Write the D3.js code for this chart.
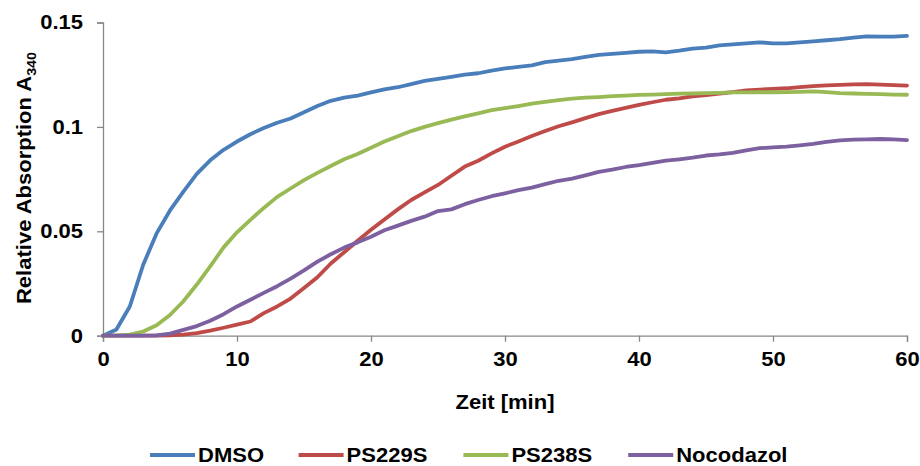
<!DOCTYPE html>
<html>
<head>
<meta charset="utf-8">
<script src="https://cdn.jsdelivr.net/npm/d3@7"></script>
<style>
  html, body { margin: 0; padding: 0; background: #fff; }
  svg { display: block; }
  text { font-family: "Liberation Sans", Arial, sans-serif; font-weight: bold; fill: #000; }
</style>
</head>
<body>
<svg id="chart" width="920" height="466"></svg>
<script>
// Time axis in minutes (one reading per minute)
const minutes = d3.range(0, 61);

// Relative absorption at 340 nm for each treatment
const dmso = [0, 0.003, 0.014, 0.034, 0.049, 0.060, 0.069, 0.0775, 0.084, 0.089,
  0.093, 0.0965, 0.0995, 0.102, 0.104, 0.107, 0.110, 0.1125, 0.114, 0.115,
  0.1165, 0.118, 0.119, 0.1205, 0.122, 0.123, 0.124, 0.125, 0.1257, 0.127,
  0.128, 0.1287, 0.1295, 0.131, 0.1317, 0.1325, 0.1335, 0.1345, 0.135, 0.1355,
  0.136, 0.1362, 0.1357, 0.1365, 0.1375, 0.138, 0.139, 0.1395, 0.140, 0.1405,
  0.140, 0.140, 0.1405, 0.141, 0.1415, 0.142, 0.1428, 0.1434, 0.1432, 0.1432, 0.1436];

const ps229s = [0, 0, 0, 0, 0, 0.0002, 0.0005, 0.0012, 0.0024, 0.0038,
  0.0053, 0.0068, 0.0108, 0.014, 0.0178, 0.0228, 0.028, 0.0346, 0.040, 0.0455,
  0.0507, 0.0557, 0.0605, 0.065, 0.0686, 0.0722, 0.0766, 0.081, 0.0838, 0.0873,
  0.0905, 0.093, 0.0956, 0.098, 0.1003, 0.1022, 0.1042, 0.1061, 0.1077, 0.1091,
  0.1105, 0.1118, 0.113, 0.1137, 0.1146, 0.1152, 0.116, 0.1167, 0.1175, 0.1179,
  0.1182, 0.1185, 0.119, 0.1195, 0.1199, 0.1201, 0.1204, 0.1205, 0.1202, 0.12, 0.1198];

const ps238s = [0, 0, 0.0005, 0.002, 0.005, 0.0099, 0.0165, 0.0245, 0.0332, 0.0423,
  0.0495, 0.0555, 0.0612, 0.0665, 0.0705, 0.0745, 0.078, 0.0813, 0.0845, 0.087,
  0.090, 0.093, 0.0955, 0.098, 0.100, 0.1018, 0.1035, 0.105, 0.1065, 0.108,
  0.109, 0.110, 0.1111, 0.112, 0.1128, 0.1135, 0.114, 0.1143, 0.1147, 0.115,
  0.1153, 0.1155, 0.1157, 0.1159, 0.116, 0.1162, 0.1163, 0.1165, 0.1165, 0.1166,
  0.1166, 0.1167, 0.1168, 0.117, 0.1167, 0.1162, 0.116, 0.1158, 0.1157, 0.1155, 0.1154];

const nocodazol = [0, 0, 0, 0, 0.0002, 0.001, 0.0028, 0.0046, 0.0072, 0.0103,
  0.014, 0.0172, 0.0205, 0.0237, 0.0273, 0.0313, 0.0355, 0.039, 0.0422, 0.0447,
  0.0474, 0.0505, 0.0527, 0.055, 0.057, 0.0597, 0.0605, 0.063, 0.065, 0.0668,
  0.0682, 0.0697, 0.0709, 0.0726, 0.0742, 0.0752, 0.0768, 0.0785, 0.0795, 0.0808,
  0.0817, 0.0828, 0.0838, 0.0845, 0.0853, 0.0863, 0.0868, 0.0876, 0.0888, 0.0898,
  0.0902, 0.0906, 0.0912, 0.0919, 0.0928, 0.0935, 0.0939, 0.094, 0.0942, 0.094, 0.0937];

const seriesNames = ["DMSO", "PS229S", "PS238S", "Nocodazol"];
const seriesValues = [dmso, ps229s, ps238s, nocodazol];
const seriesColors = ["#4a7ebb", "#be4b48", "#98b954", "#7d60a0"];

const xTicks = [0, 10, 20, 30, 40, 50, 60];
const yTicks = [0, 0.05, 0.1, 0.15];
const yTickLabels = ["0", "0.05", "0.1", "0.15"];

const svg = d3.select("#chart");
const plot = { left: 103, right: 907, top: 22.5, bottom: 335.7 };
const axisColor = "#878787";
const stretch = 1.1;   // labels are set slightly wide

const x = d3.scaleLinear().domain([0, 60]).range([plot.left, plot.right]);
const y = d3.scaleLinear().domain([0, 0.15]).range([plot.bottom, plot.top]);

// widen a text element horizontally by the stretch factor
function widen(sel) {
  sel.each(function () {
    const w = this.getComputedTextLength();
    d3.select(this).attr("textLength", w * stretch).attr("lengthAdjust", "spacingAndGlyphs");
  });
}

// Y axis
const yAxis = svg.append("g")
  .attr("transform", `translate(${plot.left},0)`)
  .call(d3.axisLeft(y).tickValues(yTicks).tickFormat((d, i) => yTickLabels[i]).tickSize(6).tickPadding(14));
yAxis.select(".domain").attr("stroke", axisColor).attr("stroke-width", 1.3);
yAxis.selectAll(".tick line").attr("stroke", axisColor).attr("stroke-width", 1.3);
yAxis.selectAll(".tick text")
  .attr("font-size", 20).attr("font-family", "Liberation Sans, Arial, sans-serif")
  .attr("font-weight", "bold").attr("fill", "#000").call(widen);

// X axis
const xAxis = svg.append("g")
  .attr("transform", `translate(0,${plot.bottom})`)
  .call(d3.axisBottom(x).tickValues(xTicks).tickFormat(d3.format("d")).tickSize(6).tickPadding(10));
xAxis.select(".domain").attr("stroke", axisColor).attr("stroke-width", 1.3);
xAxis.selectAll(".tick line").attr("stroke", axisColor).attr("stroke-width", 1.3);
xAxis.selectAll(".tick text")
  .attr("font-size", 20).attr("font-family", "Liberation Sans, Arial, sans-serif")
  .attr("font-weight", "bold").attr("fill", "#000").call(widen);

// Series lines
const line = d3.line()
  .x((d, i) => x(minutes[i]))
  .y(d => y(d))
  .curve(d3.curveLinear);

svg.append("g").selectAll("path")
  .data(seriesValues)
  .join("path")
  .attr("d", line)
  .attr("fill", "none")
  .attr("stroke", (d, i) => seriesColors[i])
  .attr("stroke-width", 3.8)
  .attr("stroke-linejoin", "round")
  .attr("stroke-linecap", "round");

// Axis titles
svg.append("text")
  .attr("x", (plot.left + plot.right) / 2)
  .attr("y", 409)
  .attr("text-anchor", "middle")
  .attr("font-size", 20)
  .text("Zeit [min]")
  .call(widen);

const yTitle = svg.append("text")
  .attr("transform", "translate(31,178) rotate(-90)")
  .attr("text-anchor", "middle")
  .attr("font-size", 20);
yTitle.append("tspan").text("Relative Absorption A");
yTitle.append("tspan").attr("font-size", 13).attr("dy", 5).text("340");
{
  const w = yTitle.node().getComputedTextLength();
  yTitle.attr("textLength", w * stretch).attr("lengthAdjust", "spacingAndGlyphs");
}

// Legend
const legend = svg.append("g");
const lineLen = 45, gapText = 3, gapItem = 28;
let cursor = 0;
seriesNames.forEach((name, i) => {
  const g = legend.append("g");
  g.append("line")
    .attr("x1", 0).attr("x2", lineLen).attr("y1", 0).attr("y2", 0)
    .attr("stroke", seriesColors[i]).attr("stroke-width", 4);
  const t = g.append("text")
    .attr("x", lineLen + gapText).attr("y", 7)
    .attr("font-size", 20)
    .text(name)
    .call(widen);
  const w = t.node().getComputedTextLength() * stretch;
  g.attr("transform", `translate(${cursor},0)`);
  cursor += lineLen + gapText + w + gapItem;
});
const legendWidth = cursor - gapItem;
legend.attr("transform", `translate(${150},455)`);
</script>
</body>
</html>
